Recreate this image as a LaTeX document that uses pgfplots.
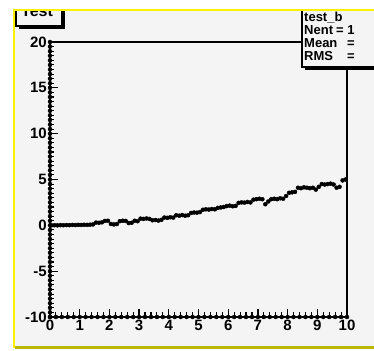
\documentclass[border=0pt]{standalone}
\usepackage{pgfplots}
\usepackage{pgfplotstable}
\pgfplotsset{compat=1.18}
\usepackage{fontspec}
\setmainfont{Liberation Sans}
\definecolor{canvasbg}{HTML}{F4F4F4}
\definecolor{darkyel}{HTML}{B8B800}
\pgfplotstableread{
x y
0.05 0.00
0.15 0.01
0.25 0.00
0.35 0.02
0.45 0.01
0.55 0.03
0.65 0.02
0.75 0.04
0.85 0.03
0.95 0.05
1.05 0.04
1.15 0.06
1.25 0.05
1.35 0.07
1.45 0.10
1.55 0.30
1.65 0.28
1.75 0.33
1.85 0.48
1.95 0.50
2.05 0.15
2.15 0.10
2.25 0.14
2.35 0.45
2.45 0.50
2.55 0.48
2.65 0.25
2.75 0.28
2.85 0.50
2.95 0.45
3.05 0.73
3.15 0.70
3.25 0.75
3.35 0.70
3.45 0.55
3.55 0.58
3.65 0.52
3.75 0.60
3.85 0.85
3.95 0.82
4.05 0.88
4.15 0.84
4.25 1.10
4.35 1.05
4.45 1.12
4.55 1.05
4.65 1.10
4.75 1.35
4.85 1.40
4.95 1.38
5.05 1.45
5.15 1.70
5.25 1.75
5.35 1.72
5.45 1.78
5.55 1.75
5.65 1.90
5.75 1.95
5.85 2.00
5.95 2.10
6.05 2.15
6.15 2.08
6.25 2.12
6.35 2.45
6.45 2.50
6.55 2.48
6.65 2.55
6.75 2.50
6.85 2.80
6.95 2.85
7.05 2.90
7.15 2.85
7.25 2.30
7.35 2.60
7.45 2.85
7.55 2.90
7.65 2.85
7.75 2.95
7.85 2.90
7.95 3.20
8.05 3.55
8.15 3.60
8.25 3.65
8.35 4.10
8.45 4.05
8.55 4.15
8.65 4.10
8.75 4.05
8.85 4.10
8.95 3.90
9.05 4.20
9.15 4.50
9.25 4.45
9.35 4.50
9.45 4.55
9.55 4.45
9.65 4.10
9.75 4.20
9.85 4.90
9.95 5.00
}\histdata
\begin{document}
\begin{tikzpicture}
\begin{scope}[x=1pt,y=1pt]
\useasboundingbox (0,0) rectangle (374,350);
\fill[white] (0,0) rectangle (374,350);
\fill[canvasbg] (14,2) rectangle (374,339.5);
\end{scope}
\begin{axis}[
  at={(50pt,33pt)}, anchor=south west,
  width=297pt, height=275pt, scale only axis,
  xmin=0, xmax=10, ymin=-10, ymax=20,
  axis line style={line width=1.8pt},
  xtick pos=bottom, ytick pos=left,
  xtick align=inside, ytick align=inside,
  xtick={0,1,2,3,4,5,6,7,8,9,10},
  ytick={-10,-5,0,5,10,15,20},
  major tick length=0pt,
  yticklabels={-10,-5,0,5,10,15,20},
  xticklabels={0,1,2,3,4,5,6,7,8,9,10},
  yticklabel style={font=\fontsize{15}{15}\selectfont\bfseries, anchor=east, inner sep=0pt, xshift=-3pt},
  xticklabel style={font=\fontsize{15}{15}\selectfont\bfseries, anchor=north, inner sep=0pt, yshift=-3pt},
  clip=false,
]
\addplot[black, only marks, mark=none,
  error bars/.cd, x dir=both, x fixed=0.05, y dir=both, y fixed=0.1,
  error bar style={line width=1.3pt, black}, error mark=none]
  table[x=x, y=y] {\histdata};
% x minor ticks
\addplot[black, only marks, mark=none,
  error bars/.cd, y dir=plus, y fixed=0.5,
  error bar style={line width=1.1pt, black}, error mark=none]
  coordinates {(0.2,-10)(0.4,-10)(0.6,-10)(0.8,-10)(1.2,-10)(1.4,-10)(1.6,-10)(1.8,-10)(2.2,-10)(2.4,-10)(2.6,-10)(2.8,-10)(3.2,-10)(3.4,-10)(3.6,-10)(3.8,-10)(4.2,-10)(4.4,-10)(4.6,-10)(4.8,-10)(5.2,-10)(5.4,-10)(5.6,-10)(5.8,-10)(6.2,-10)(6.4,-10)(6.6,-10)(6.8,-10)(7.2,-10)(7.4,-10)(7.6,-10)(7.8,-10)(8.2,-10)(8.4,-10)(8.6,-10)(8.8,-10)(9.2,-10)(9.4,-10)(9.6,-10)(9.8,-10)};
% x major ticks
\addplot[black, only marks, mark=none,
  error bars/.cd, y dir=plus, y fixed=0.85,
  error bar style={line width=1.3pt, black}, error mark=none]
  coordinates {(0,-10)(1,-10)(2,-10)(3,-10)(4,-10)(5,-10)(6,-10)(7,-10)(8,-10)(9,-10)(10,-10)};
% y minor ticks
\addplot[black, only marks, mark=none,
  error bars/.cd, x dir=plus, x fixed=0.15,
  error bar style={line width=1.1pt, black}, error mark=none]
  coordinates {(0,-9.5)(0,-9)(0,-8.5)(0,-8)(0,-7.5)(0,-7)(0,-6.5)(0,-6)(0,-5.5)(0,-4.5)(0,-4)(0,-3.5)(0,-3)(0,-2.5)(0,-2)(0,-1.5)(0,-1)(0,-0.5)(0,0.5)(0,1)(0,1.5)(0,2)(0,2.5)(0,3)(0,3.5)(0,4)(0,4.5)(0,5.5)(0,6)(0,6.5)(0,7)(0,7.5)(0,8)(0,8.5)(0,9)(0,9.5)(0,10.5)(0,11)(0,11.5)(0,12)(0,12.5)(0,13)(0,13.5)(0,14)(0,14.5)(0,15.5)(0,16)(0,16.5)(0,17)(0,17.5)(0,18)(0,18.5)(0,19)(0,19.5)};
% y major ticks
\addplot[black, only marks, mark=none,
  error bars/.cd, x dir=plus, x fixed=0.28,
  error bar style={line width=1.3pt, black}, error mark=none]
  coordinates {(0,-10)(0,-5)(0,0)(0,5)(0,10)(0,15)(0,20)};
\end{axis}
\begin{scope}[x=1pt,y=1pt]
\begin{scope}
\clip (14,2) rectangle (374,339.5);
% title box
\fill[black] (19,321) rectangle (65,345);
\fill[canvasbg] (16,324) rectangle (62,350);
\draw[black, line width=1.3pt] (16,324) rectangle (62,350);
\node[anchor=base west, inner sep=0pt, font=\fontsize{16}{16}\selectfont\bfseries] at (21,333) {Test};
% stats box
\fill[black] (305,280) rectangle (380,345);
\fill[canvasbg] (302,283) rectangle (380,350);
\draw[black, line width=2pt] (302,283) rectangle (380,350);
\begin{scope}[every node/.style={anchor=base west, inner sep=0pt, font=\fontsize{13}{13}\selectfont\bfseries}]
\node at (304,328) {test\_b};
\node at (304,315) {Nent};
\node at (336,315) {= 1};
\node at (304,302) {Mean};
\node at (347,302) {=};
\node at (304,289) {RMS};
\node at (347,289) {=};
\end{scope}
\end{scope}
% canvas border
\fill[yellow] (12.5,2) rectangle (15,340.5);
\fill[yellow] (12.5,338.5) rectangle (374,340.5);
\fill[darkyel] (15,1.2) rectangle (374,3.6);
\end{scope}
\end{tikzpicture}
\end{document}
